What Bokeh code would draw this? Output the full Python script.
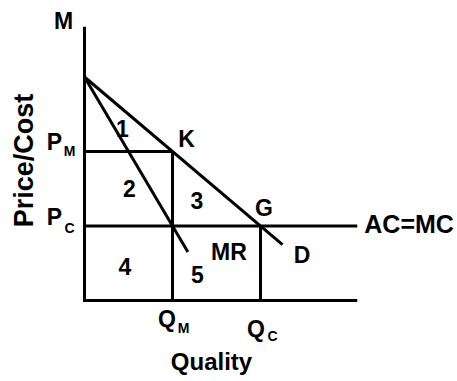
from bokeh.plotting import figure
from bokeh.models import Label, Range1d
from bokeh.embed import file_html
from bokeh.resources import INLINE

# ---- data (economic units) ----
q_monopoly = 4.0      # Q_M
q_competitive = 8.0   # Q_C
p_monopoly = 4.0      # P_M
p_competitive = 2.0   # P_C
axis_top = 7.35
axis_right = 12.4
demand_q = [0.0, 9.0]
demand_p = [6.0, 1.5]
mr_q = [0.0, 4.7]
mr_p = [6.0, 1.3]

FONT = "Liberation Sans"
W, H = 457, 381
x0_px, y0_px = 84, 300
SX, SY = 22, 37.25
p = figure(width=W, height=H, output_backend="svg", toolbar_location=None,
           x_range=Range1d(-x0_px / SX, (W - x0_px) / SX),
           y_range=Range1d((y0_px - H) / SY, y0_px / SY),
           min_border=0, outline_line_color=None, background_fill_color="white",
           border_fill_color="white")
p.xaxis.visible = False
p.yaxis.visible = False
p.grid.visible = False

LW = 3
p.line([0, 0, axis_right], [axis_top, 0, 0], line_width=LW, color="black", line_join="miter")
p.line([0, axis_right], [p_competitive, p_competitive], line_width=LW, color="black")
p.line([0, q_monopoly], [p_monopoly, p_monopoly], line_width=LW, color="black")
p.line([q_monopoly, q_monopoly], [0, p_monopoly], line_width=LW, color="black")
p.line([q_competitive, q_competitive], [0, p_competitive], line_width=LW, color="black")
p.line(demand_q, demand_p, line_width=LW, color="black")
p.line(mr_q, mr_p, line_width=LW, color="black")


def lab(x, y, text, dx, dy, size=23, align="center", angle=0.0):
    corr = 0.36 * size  # renderer places the anchor near mid-cap; move to baseline
    if angle:
        ox, oy = dx - corr, dy
    else:
        ox, oy = dx, dy + corr
    p.add_layout(Label(x=x, y=y, text=text, x_offset=ox, y_offset=oy,
                       text_font=FONT, text_font_size=f"{size}px", text_font_style="bold",
                       text_align=align, text_baseline="alphabetic",
                       text_color="black", angle=angle))


SUB = 14
lab(0, axis_top, "M", -21, -3)
lab(0, p_monopoly, "P", -30, 1.7)
lab(0, p_monopoly, "M", -15, -5, SUB)
lab(0, p_competitive, "P", -30, 0.5)
lab(0, p_competitive, "C", -15, -7.5, SUB)
lab(q_monopoly, 0, "Q", -5.5, -27)
lab(q_monopoly, 0, "M", 11, -33, SUB)
lab(q_competitive, 0, "Q", -4.5, -37)
lab(q_competitive, 0, "C", 12, -41, SUB)
lab(0, 0, "Quality", 127, -70, 24)
lab(0, 0, "Price/Cost", -51, 140, 27, angle=1.5707963267948966)
lab(axis_right, p_competitive, "AC=MC", 7, -6.5, 25, align="left")
lab(q_monopoly, p_monopoly, "K", 14, 4.5)
lab(q_competitive, p_competitive, "G", 3.5, 9.5)
lab(demand_q[1], demand_p[1], "D", 19.5, -19)
lab(q_monopoly, p_competitive, "MR", 56.5, -34.5)
lab(0, p_monopoly, "1", 38, 15)
lab(0, p_competitive, "2", 45, 29.5)
lab(q_monopoly, p_competitive, "3", 24.5, 17.5)
lab(0, 0, "4", 40.5, 26)
lab(q_monopoly, 0, "5", 25, 18)

open("out.html", "w").write(file_html(p, INLINE))
